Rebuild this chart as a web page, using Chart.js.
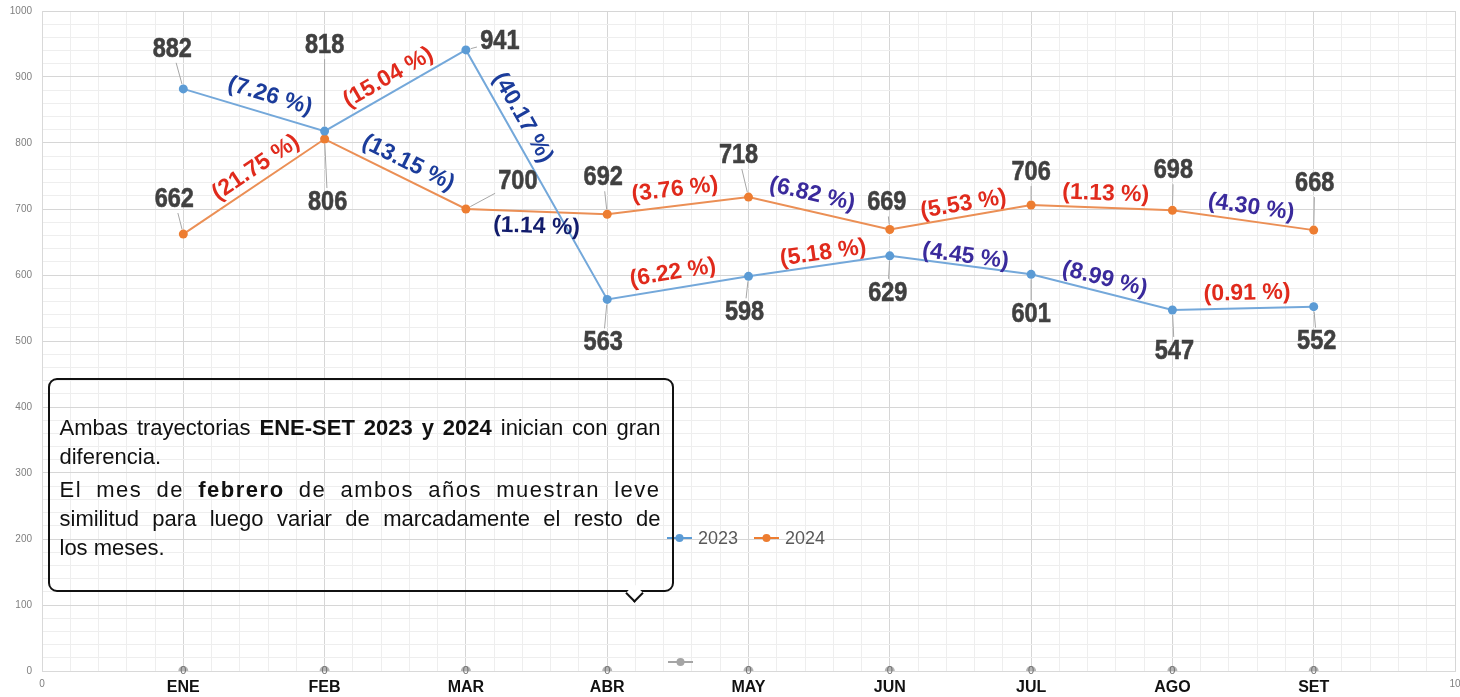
<!DOCTYPE html>
<html>
<head>
<meta charset="utf-8">
<script src="https://cdn.jsdelivr.net/npm/chart.js@4.4.1/dist/chart.umd.min.js"></script>
<style>
  html, body { margin: 0; padding: 0; background: #fff; overflow: hidden; }
  #wrap { position: relative; width: 1460px; height: 697px; overflow: hidden; }
  #note {
    position: absolute; left: 48px; top: 378px; width: 626px; height: 214px;
    box-sizing: border-box; border: 2.5px solid #111; border-radius: 9px;
    padding: 33px 11.5px 0 9.5px;
    font-family: 'Liberation Sans', Arial, sans-serif; font-size: 22px; line-height: 29px; color: #111;
  }
  #note .ln { white-space: nowrap; }
  #note .full { text-align: justify; text-align-last: justify; }
  #note .wide { letter-spacing: 1.5px; margin-top: 4px; }
  #tip {
    position: absolute; left: 628px; top: 587px; width: 11px; height: 11px;
    border-right: 2.5px solid #111; border-bottom: 2.5px solid #111;
    background: #fff; transform: rotate(45deg);
  }
</style>
</head>
<body>
<div id="wrap">
  <canvas id="chart" width="1460" height="697"></canvas>
  <div id="note">
    <div class="ln full">Ambas trayectorias <b>ENE-SET 2023 y 2024</b> inician con gran</div>
    <div class="ln">diferencia.</div>
    <div class="ln full wide">El mes de <b>febrero</b> de ambos años muestran leve</div>
    <div class="ln full">similitud para luego variar de marcadamente el resto de</div>
    <div class="ln">los meses.</div>
  </div>
  <div id="tip"></div>
</div>
<script>
const months = ['ENE', 'FEB', 'MAR', 'ABR', 'MAY', 'JUN', 'JUL', 'AGO', 'SET']
const sales2023 = [882, 818, 941, 563, 598, 629, 601, 547, 552]
const sales2024 = [662, 806, 700, 692, 718, 669, 706, 698, 668]
const zeroSeries = [0, 0, 0, 0, 0, 0, 0, 0, 0]
const pct2023 = ['(7.26 %)', '(15.04 %)', '(40.17 %)', '(6.22 %)', '(5.18 %)', '(4.45 %)', '(8.99 %)', '(0.91 %)']
const pct2024 = ['(21.75 %)', '(13.15 %)', '(1.14 %)', '(3.76 %)', '(6.82 %)', '(5.53 %)', '(1.13 %)', '(4.30 %)']

// styles for the annotations
const BLUE = '#1b3c9b'
const NAVY = '#121c6c'
const PURPLE = '#3a2a9c'
const RED = '#e02a1c'
const pctColors2023 = [BLUE, RED, BLUE, RED, RED, PURPLE, PURPLE, RED]
const pctColors2024 = [RED, BLUE, NAVY, RED, PURPLE, RED, RED, PURPLE]
const pctOffsets2023 = [[16, -14], [-7, -13], [-14, -57], [-5, -15], [4, -13], [5, -9], [3, -13], [4, -15]]
const pctOffsets2024 = [[2, -19], [13, -11], [0, 15], [-3, -16], [-7, -19], [3, -13], [4, -14], [8, -13]]
const valueOffsets2023 = [[-11, -40], [0, -86], [34, -9], [-4, 43], [-4, 36], [-2, 37], [0, 40], [2, 41], [3, 35]]
const valueOffsets2024 = [[-9, -35], [3, 63], [52, -28], [-4, -37], [-10, -42], [-3, -27], [0, -33], [1, -40], [1, -47]]

const FONT = '"Liberation Sans", Arial, sans-serif'
const isWhole = (v) => Math.abs(v - Math.round(v)) < 1e-6
const isMonthTick = (ctx) => {
  if (!ctx.tick) return false
  const v = ctx.tick.value
  return isWhole(v) && v >= 1 && v <= months.length
}

function toPoints(values) {
  return values.map((v, i) => ({ x: i + 1, y: v }))
}

function drawValueLabels(ctx, meta, values, offsets) {
  const halfW = 21
  const halfH = 12
  meta.data.forEach((pt, i) => {
    const [dx, dy] = offsets[i]
    const lx = pt.x + dx
    const ly = pt.y + dy
    const dist = Math.hypot(dx, dy)
    if (dist > 24) {
      const s = Math.min(halfW / Math.max(Math.abs(dx), 1e-6), halfH / Math.max(Math.abs(dy), 1e-6))
      const ux = dx / dist
      const uy = dy / dist
      ctx.save()
      ctx.strokeStyle = '#a6a6a6'
      ctx.lineWidth = 1
      ctx.beginPath()
      ctx.moveTo(pt.x + ux * 5, pt.y + uy * 5)
      ctx.lineTo(lx - dx * s - ux * 2, ly - dy * s - uy * 2)
      ctx.stroke()
      ctx.restore()
    }
    ctx.save()
    ctx.translate(lx, ly)
    ctx.scale(0.84, 1)
    ctx.font = `bold 28px ${FONT}`
    ctx.fillStyle = '#404040'
    ctx.strokeStyle = '#404040'
    ctx.lineWidth = 0.6
    ctx.textAlign = 'center'
    ctx.textBaseline = 'middle'
    ctx.fillText(String(values[i]), 0, 0)
    ctx.strokeText(String(values[i]), 0, 0)
    ctx.restore()
  })
}

function drawSegmentLabels(ctx, meta, texts, colors, offsets) {
  for (let i = 0; i < texts.length; i++) {
    const a = meta.data[i]
    const b = meta.data[i + 1]
    const angle = Math.atan2(b.y - a.y, b.x - a.x)
    ctx.save()
    ctx.translate((a.x + b.x) / 2 + offsets[i][0], (a.y + b.y) / 2 + offsets[i][1])
    ctx.rotate(angle)
    ctx.font = `bold 23px ${FONT}`
    ctx.fillStyle = colors[i]
    ctx.textAlign = 'center'
    ctx.textBaseline = 'middle'
    ctx.fillText(texts[i], 0, 0)
    ctx.restore()
  }
}

function drawLegend(ctx) {
  const items = [
    { x: 667, y: 538, color: '#5b9bd5', text: '2023' },
    { x: 754, y: 538, color: '#ed7d31', text: '2024' },
    { x: 668, y: 662, color: '#a5a5a5', text: '' },
  ]
  items.forEach((item) => {
    ctx.save()
    ctx.strokeStyle = item.color
    ctx.lineWidth = 2
    ctx.beginPath()
    ctx.moveTo(item.x, item.y)
    ctx.lineTo(item.x + 25, item.y)
    ctx.stroke()
    ctx.fillStyle = item.color
    ctx.beginPath()
    ctx.arc(item.x + 12.5, item.y, 4, 0, Math.PI * 2)
    ctx.fill()
    ctx.font = `18px ${FONT}`
    ctx.fillStyle = '#595959'
    ctx.textBaseline = 'middle'
    ctx.fillText(item.text, item.x + 31, item.y + 1)
    ctx.restore()
  })
}

const annotationPlugin = {
  id: 'annotations',
  afterDatasetsDraw(chart) {
    const ctx = chart.ctx
    const meta2023 = chart.getDatasetMeta(0)
    const meta2024 = chart.getDatasetMeta(1)
    const metaZero = chart.getDatasetMeta(2)

    metaZero.data.forEach((pt, i) => {
      ctx.save()
      ctx.font = `11px ${FONT}`
      ctx.fillStyle = '#6f6f6f'
      ctx.textAlign = 'center'
      ctx.textBaseline = 'middle'
      ctx.fillText(String(zeroSeries[i]), pt.x, pt.y)
      ctx.restore()
    })

    drawSegmentLabels(ctx, meta2023, pct2023, pctColors2023, pctOffsets2023)
    drawSegmentLabels(ctx, meta2024, pct2024, pctColors2024, pctOffsets2024)
    drawValueLabels(ctx, meta2023, sales2023, valueOffsets2023)
    drawValueLabels(ctx, meta2024, sales2024, valueOffsets2024)
    drawLegend(ctx)
  },
}

new Chart(document.getElementById('chart'), {
  type: 'line',
  data: {
    datasets: [
      {
        label: '2023',
        data: toPoints(sales2023),
        borderColor: '#74a8da',
        backgroundColor: '#5b9bd5',
        borderWidth: 2,
        pointRadius: 4.5,
        pointBackgroundColor: '#5b9bd5',
        pointBorderWidth: 0,
        tension: 0,
      },
      {
        label: '2024',
        data: toPoints(sales2024),
        borderColor: '#eb8f55',
        backgroundColor: '#ed7d31',
        borderWidth: 2,
        pointRadius: 4.5,
        pointBackgroundColor: '#ed7d31',
        pointBorderWidth: 0,
        tension: 0,
      },
      {
        label: '',
        data: toPoints(zeroSeries),
        showLine: false,
        pointRadius: 5,
        pointBackgroundColor: '#b4b4b4',
        pointBorderWidth: 0,
      },
    ],
  },
  options: {
    responsive: false,
    animation: false,
    layout: { autoPadding: false, padding: { top: 11, right: 5, left: 0, bottom: 0 } },
    plugins: {
      legend: { display: false },
      tooltip: { enabled: false },
    },
    scales: {
      x: {
        type: 'linear',
        min: 0,
        max: 10,
        afterFit: (scale) => {
          scale.height = 26
          scale.paddingLeft = 0
          scale.paddingRight = 0
        },
        border: { color: '#d9d9d9' },
        grid: {
          drawTicks: false,
          color: (ctx) => (ctx.tick && isWhole(ctx.tick.value) ? '#d6d6d6' : '#eeeeee'),
        },
        ticks: {
          stepSize: 0.2,
          maxTicksLimit: 100,
          autoSkip: false,
          maxRotation: 0,
          padding: 7,
          callback: (value) => {
            if (!isWhole(value)) return ''
            const n = Math.round(value)
            if (n >= 1 && n <= months.length) return months[n - 1]
            return String(n)
          },
          color: (ctx) => (isMonthTick(ctx) ? '#111111' : '#7f7f7f'),
          font: (ctx) => (isMonthTick(ctx)
            ? { family: FONT, size: 16, weight: 'bold' }
            : { family: FONT, size: 10 }),
        },
      },
      y: {
        min: 0,
        max: 1000,
        afterFit: (scale) => {
          scale.width = 42
          scale.paddingTop = 0
          scale.paddingBottom = 0
        },
        border: { color: '#d9d9d9' },
        grid: {
          drawTicks: false,
          color: (ctx) => (ctx.tick && ctx.tick.value % 100 === 0 ? '#d6d6d6' : '#eeeeee'),
        },
        ticks: {
          stepSize: 20,
          maxTicksLimit: 100,
          autoSkip: false,
          padding: 10,
          color: '#7f7f7f',
          font: { family: FONT, size: 10 },
          callback: (value) => (value % 100 === 0 ? String(value) : ''),
        },
      },
    },
  },
  plugins: [annotationPlugin],
})
</script>
</body>
</html>
